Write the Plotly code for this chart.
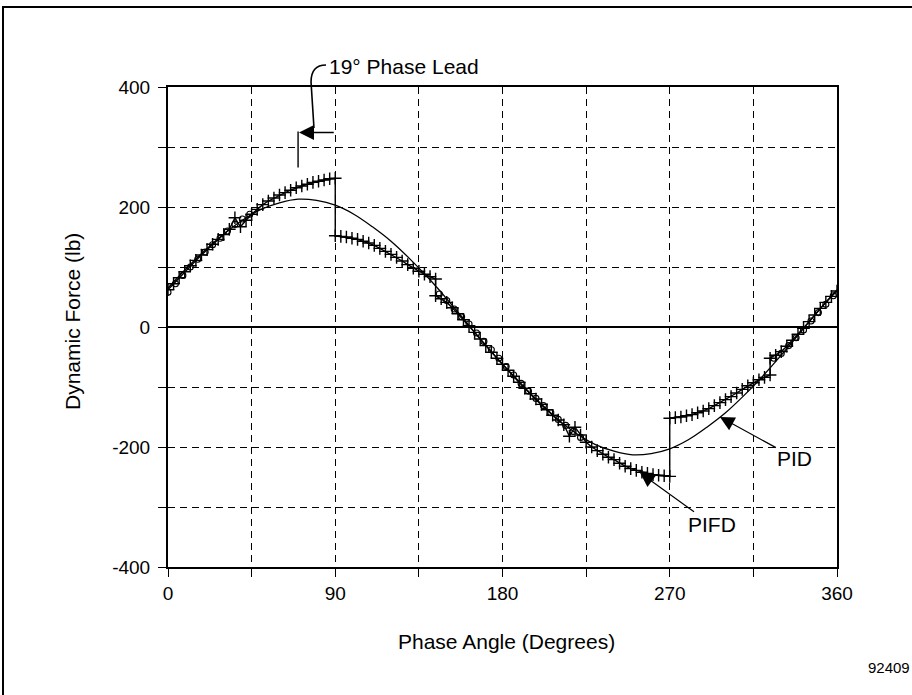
import plotly.graph_objects as go

# ---------------- data ----------------
pid_angle = [0, 10, 20, 30, 40, 50, 60, 70, 80, 90, 100, 110, 120, 130, 140, 150, 160, 170,
             180, 190, 200, 210, 220, 230, 240, 250, 260, 270, 280, 290, 300, 310, 320, 330,
             340, 350, 360]
pid_force = [65, 98, 128, 155, 178, 196, 207, 213, 211, 203, 188, 167, 143, 114, 82, 47, 10, -27,
             -62, -96, -127, -155, -178, -196, -207, -213, -211, -203, -188, -167, -143, -114, -82, -47,
             -10, 27, 62]

pifd_angle = [0, 3, 6, 9, 12, 15, 18, 21, 24, 27, 30, 33, 36, 39, 42, 45, 48, 51, 54, 57, 60,
              63, 66, 69, 72, 75, 78, 81, 84, 87, 90,
              90, 93, 96, 99, 102, 105, 108, 111, 114, 117, 120, 123, 126, 129, 132, 135, 138, 141, 144,
              144, 147, 150, 153, 156, 159, 162, 165, 168, 171, 174, 177, 180, 183, 186, 189, 192, 195,
              198, 201, 204, 207, 210, 213, 216, 219, 222, 225, 228, 231, 234, 237, 240, 243, 246, 249,
              252, 255, 258, 261, 264, 267, 270,
              270, 273, 276, 279, 282, 285, 288, 291, 294, 297, 300, 303, 306, 309, 312, 315, 318, 321, 324,
              324, 327, 330, 333, 336, 339, 342, 345, 348, 351, 354, 357, 360]
pifd_force = [62, 72, 82, 92, 102, 111, 120, 129, 138, 146, 154, 163, 182, 167, 178, 188, 196, 204, 210, 215, 220,
              224, 228, 232, 235, 238, 241, 243, 245, 247, 248,
              152, 151, 150, 148, 146, 143, 140, 136, 131, 126, 121, 116, 110, 104, 98, 93, 88, 84, 80,
              52, 47, 41, 32, 22, 12, 2, -9, -20, -31, -42, -52, -62, -72, -82, -92, -102, -111,
              -120, -129, -138, -147, -155, -163, -182, -167, -180, -192, -200, -206, -212, -217, -221, -227, -232, -236,
              -239, -242, -244, -246, -247, -248, -249,
              -152, -151, -150, -148, -146, -143, -140, -136, -131, -126, -121, -116, -110, -104, -98, -93, -88, -84, -80,
              -52, -47, -41, -32, -22, -12, -2, 9, 20, 31, 41, 51, 60]

circ_angle = [0, 4, 8, 12, 16, 20, 24, 28, 32, 36, 40, 44,
              146, 150, 154, 158, 162, 166, 170, 174, 178, 182, 186, 190, 194, 198, 202, 206, 210, 214,
              218, 222,
              326, 330, 334, 338, 342, 346, 350, 354, 358]
circ_force = [58, 72, 86, 100, 113, 125, 137, 148, 160, 171, 180, 188,
              55, 44, 30, 17, 5, -10, -24, -38, -52, -66, -80, -94, -107, -119, -131, -143, -154, -164,
              -174, -184,
              -52, -44, -31, -18, -5, 10, 24, 38, 52]

x_ticks = [0, 45, 90, 135, 180, 225, 270, 315, 360]
x_ticktext = ["0", "", "90", "", "180", "", "270", "", "360"]
y_ticks = [-400, -300, -200, -100, 0, 100, 200, 300, 400]
y_ticktext = ["-400", "", "-200", "", "0", "", "200", "", "400"]

# ---------------- figure ----------------
FONT = "Liberation Sans, Arial, Helvetica, sans-serif"
W, H = 912, 695
ML, MR, MT, MB = 168, 75, 87, 128
PW, PH = W - ML - MR, H - MT - MB


def px(xp):
    return (xp - ML) / PW


def py(yp):
    return (H - MB - yp) / PH


fig = go.Figure()

fig.add_trace(go.Scatter(
    x=pid_angle, y=pid_force, mode="lines", name="PID",
    line=dict(color="black", width=1.3, shape="spline", smoothing=1.0),
    showlegend=False))

fig.add_trace(go.Scatter(
    x=circ_angle, y=circ_force, mode="markers", name="data",
    marker=dict(symbol="circle-open", size=6, color="black", line=dict(width=1.1, color="black")),
    showlegend=False))

fig.add_trace(go.Scatter(
    x=pifd_angle, y=pifd_force, mode="lines+markers", name="PIFD",
    line=dict(color="black", width=1.4),
    marker=dict(symbol="cross-thin", size=9, color="black", line=dict(width=1.4, color="black")),
    showlegend=False))

axis_common = dict(
    showline=True, linecolor="black", linewidth=2, mirror=True,
    showgrid=True, gridcolor="black", gridwidth=1.1, griddash="7px,5px",
    ticks="outside", ticklen=8, tickwidth=1.2, tickcolor="black",
    tickfont=dict(family=FONT, size=19, color="black"),
)

fig.update_xaxes(range=[0, 360], tickmode="array", tickvals=x_ticks, ticktext=x_ticktext,
                 zeroline=False, **axis_common)
fig.update_yaxes(range=[-400, 400], tickmode="array", tickvals=y_ticks, ticktext=y_ticktext,
                 zeroline=True, zerolinecolor="black", zerolinewidth=1.6,
                 ticklabelstandoff=4, **axis_common)

shapes = [
    # outer frame of the figure
    dict(type="rect", xref="paper", yref="paper", x0=px(3), y0=py(760), x1=px(1000), y1=py(7),
         line=dict(color="black", width=2), fillcolor="rgba(0,0,0,0)", layer="above"),
    # vertical marker at the phase-lead position
    dict(type="line", xref="x", yref="y", x0=70, x1=70, y0=266, y1=326,
         line=dict(color="black", width=1.4)),
    # curved leader from the label
    dict(type="path", xref="paper", yref="paper",
         path=f"M {px(326):.4f},{py(65):.4f} C {px(316):.4f},{py(65):.4f} {px(311):.4f},{py(70):.4f} "
              f"{px(311):.4f},{py(82):.4f} L {px(314):.4f},{py(128):.4f}",
         line=dict(color="black", width=1.6)),
]

annotations = [
    dict(text="Phase Angle (Degrees)", xref="paper", yref="paper", x=px(506), y=py(641),
         xanchor="center", yanchor="middle", showarrow=False,
         font=dict(family=FONT, size=21, color="black")),
    dict(text="Dynamic Force (lb)", xref="paper", yref="paper", x=px(72), y=py(322),
         xanchor="center", yanchor="middle", showarrow=False, textangle=-90,
         font=dict(family=FONT, size=21, color="black")),
    dict(text="19° Phase Lead", xref="paper", yref="paper", x=px(327), y=py(66),
         xanchor="left", yanchor="middle", showarrow=False,
         font=dict(family=FONT, size=21, color="black")),
    dict(text="92409", xref="paper", yref="paper", x=px(866), y=py(667),
         xanchor="left", yanchor="middle", showarrow=False,
         font=dict(family=FONT, size=15, color="black")),
    # 19 degree phase lead arrow
    dict(text="", x=70.5, y=324, xref="x", yref="y", ax=90, ay=324, axref="x", ayref="y",
         showarrow=True, arrowhead=2, arrowsize=2.0, arrowwidth=1.5, arrowcolor="black"),
    # PID label
    dict(text="PID", x=297, y=-150, xref="x", yref="y", ax=75, ay=41,
         showarrow=True, arrowhead=2, arrowsize=2.4, arrowwidth=1.2, arrowcolor="black",
         font=dict(family=FONT, size=21, color="black")),
    # PIFD label
    dict(text="PIFD", x=254, y=-243, xref="x", yref="y", ax=72, ay=52,
         showarrow=True, arrowhead=2, arrowsize=2.4, arrowwidth=1.2, arrowcolor="black",
         font=dict(family=FONT, size=21, color="black")),
]

fig.update_layout(
    width=W, height=H,
    margin=dict(l=ML, r=MR, t=MT, b=MB),
    paper_bgcolor="white", plot_bgcolor="white",
    shapes=shapes, annotations=annotations,
    font=dict(family=FONT, color="black"),
)

fig.write_html("out.html")
